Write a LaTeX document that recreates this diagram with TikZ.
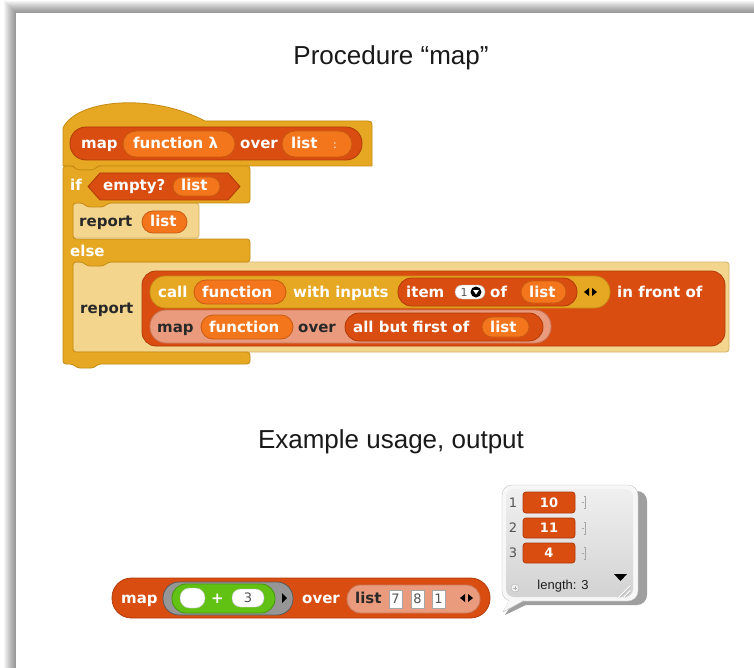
\documentclass[tikz,border=0pt]{standalone}
\usepackage{fontspec}
\setmainfont{Liberation Sans}
\newfontfamily\blk{DejaVu Sans}
\definecolor{gold}{RGB}{230,168,34}
\definecolor{golddk}{RGB}{196,138,18}
\definecolor{zgold}{RGB}{243,213,142}
\definecolor{zgolddk}{RGB}{214,178,102}
\definecolor{lred}{RGB}{217,77,17}
\definecolor{lreddk}{RGB}{176,58,8}
\definecolor{vorange}{RGB}{243,118,29}
\definecolor{vorangedk}{RGB}{200,90,15}
\definecolor{zlist}{RGB}{234,155,125}
\definecolor{zlistdk}{RGB}{200,120,90}
\definecolor{opgreen}{RGB}{98,194,19}
\definecolor{opgreendk}{RGB}{70,150,10}
\definecolor{ringgray}{RGB}{150,150,150}
\definecolor{txtdk}{RGB}{40,40,40}
\begin{document}
\begin{tikzpicture}[x=1pt,y=-1pt,line join=round,
  wt/.style={text=white,font=\blk\bfseries\fontsize{15}{15}\selectfont,anchor=west,inner sep=0pt,text height=10pt,text depth=0pt},
  dk/.style={wt,text=txtdk},
  num/.style={text=txtdk!80,font=\blk\fontsize{13}{13}\selectfont,inner sep=0pt,text height=9pt,text depth=0pt},
  cell/.style={text=white,font=\blk\bfseries\fontsize{13}{13}\selectfont,inner sep=0pt,text height=9pt,text depth=0pt},
  goldblk/.style={fill=gold,draw=golddk,line width=0.8},
  zgoldblk/.style={fill=zgold,draw=zgolddk,line width=0.8},
  redblk/.style={fill=lred,draw=lreddk,line width=0.8},
  slotv/.style={fill=vorange,draw=vorangedk,line width=0.8},
  zlistblk/.style={fill=zlist,draw=zlistdk,line width=0.8},
  title/.style={font=\fontsize{26}{30}\selectfont,text=black!90,inner sep=0pt}]
\useasboundingbox (0,0) rectangle (754,668);
% page and shadow
\fill[white] (0,0) rectangle (754,668);
\foreach \i in {1,...,12} \fill[black,opacity=0.04] (16-\i,13-\i) rectangle (760,680);
\fill[white] (16,13) rectangle (760,680);

% titles
\node[title] (t1) at (391,58) {Procedure “map”};
\node[title] (t2) at (391,442) {Example usage, output};

% hat block
\filldraw[goldblk] (63,166) -- (63,128) .. controls (76,100) and (150,92) .. (205,121) -- (368,121) .. controls (371,121) and (372,122) .. (372,125) -- (372,166) -- (98,166) -- (94,170) -- (77,170) -- (73,166) -- cycle;
\filldraw[redblk,rounded corners=16] (70,127) rectangle (362,160);
\node[wt] (h1) at (81,144) {map};
\filldraw[slotv,rounded corners=13] (123,131) rectangle (235,157);
\node[wt] (h2) at (133,144) {function λ};
\node[wt] (h3) at (240,144) {over};
\filldraw[slotv,rounded corners=13] (282,131) rectangle (352,157);
\node[wt] (h4) at (291,144) {list};
\node[wt,font=\blk\fontsize{11}{11}\selectfont] (h5) at (333,144) {:};

% report blocks inside the C slots
\filldraw[zgoldblk,rounded corners=3] (72,203) rectangle (199,238);
\filldraw[zgoldblk,rounded corners=3] (72,262) rectangle (729,352);

% if-else C block
\filldraw[goldblk,rounded corners=3] (63,166) -- (73,166) -- (77,170) -- (94,170) -- (98,166) -- (250,166) -- (250,203) -- (108,203) -- (104,207) -- (87,207) -- (83,203) -- (73,203) -- (73,239) -- (250,239) -- (250,262) -- (108,262) -- (104,266) -- (87,266) -- (83,262) -- (73,262) -- (73,352) -- (250,352) -- (250,364) -- (98,364) -- (94,368) -- (77,368) -- (73,364) -- (63,364) -- cycle;
\node[wt] (i1) at (70,186) {if};
\filldraw[redblk] (88,186.5) -- (100,173) -- (228,173) -- (240,186.5) -- (228,200) -- (100,200) -- cycle;
\node[wt] (i2) at (103,186) {empty?};
\filldraw[slotv,rounded corners=9.5] (173,177) rectangle (220,196);
\node[wt] (i3) at (181,186) {list};
\node[dk] (r1) at (79,221) {report};
\filldraw[slotv,rounded corners=11] (142,211) rectangle (187,233);
\node[wt] (r2) at (150,222) {list};
\node[wt] (e1) at (70,251) {else};
\node[dk] (r3) at (80,308) {report};

% in front of
\filldraw[redblk,rounded corners=14] (142,271) rectangle (725,346);
\filldraw[goldblk,rounded corners=15.5] (150,276) rectangle (610,308);
\node[wt] (c1) at (158,292) {call};
\filldraw[slotv,rounded corners=12] (194,280) rectangle (286,304);
\node[wt] (c2) at (202,292) {function};
\node[wt] (c3) at (293,292) {with inputs};
\filldraw[redblk,rounded corners=13.5] (398,278) rectangle (577,306);
\node[wt] (c4) at (406,292) {item};
\filldraw[fill=white,draw=gray!60,rounded corners=7] (455,285) rectangle (485,299);
\node[num,font=\blk\fontsize{11}{11}\selectfont,text height=8pt,anchor=center] (c5) at (464,292) {1};
\fill[black] (476,292) circle (5.5);
\fill[white] (473,290) -- (479,290) -- (476,294.5) -- cycle;
\node[wt] (c6) at (490,292) {of};
\filldraw[slotv,rounded corners=11] (521,281) rectangle (566,303);
\node[wt] (c7) at (529,292) {list};
\fill[black] (584,292) -- (589,288) -- (589,296) -- cycle;
\fill[black] (597,292) -- (592,288) -- (592,296) -- cycle;
\node[wt] (c8) at (617,292) {in front of};
\filldraw[zlistblk,rounded corners=16] (150,310) rectangle (551,343);
\node[dk] (m1) at (157,327) {map};
\filldraw[slotv,rounded corners=12] (201,315) rectangle (293,339);
\node[wt] (m2) at (209,327) {function};
\node[dk] (m3) at (298,327) {over};
\filldraw[redblk,rounded corners=14] (345,313) rectangle (543,341);
\node[wt] (m4) at (353,327) {all but first of};
\filldraw[slotv,rounded corners=10] (482,317) rectangle (529,337);
\node[wt] (m5) at (490,327) {list};

% example usage block
\filldraw[redblk,rounded corners=19.5] (112,578) rectangle (490,618);
\node[wt] (u1) at (121,598) {map};
\filldraw[fill=ringgray,draw=gray!70!black,line width=0.8,rounded corners=16] (163,582) rectangle (293,615);
\filldraw[fill=opgreen,draw=opgreendk,line width=0.8,rounded corners=14] (172,584) rectangle (275,613);
\filldraw[fill=white,draw=gray!50,rounded corners=9.5] (180,588) rectangle (205,608);
\node[wt] (u2) at (211,598) {+};
\filldraw[fill=white,draw=gray!50,rounded corners=8.5] (232,589) rectangle (264,607);
\node[num,anchor=center] (u3) at (248,598) {3};
\fill[black] (287,598) -- (282,593) -- (282,603) -- cycle;
\node[wt] (u4) at (302,598) {over};
\filldraw[zlistblk,rounded corners=13.5] (347,585) rectangle (480,613);
\node[dk] (u5) at (355,598) {list};
\filldraw[fill=white,draw=gray!70] (389,590) rectangle (402,608);
\node[num,anchor=center] (u6) at (395.5,599) {7};
\filldraw[fill=white,draw=gray!70] (411,590) rectangle (424,608);
\node[num,anchor=center] (u7) at (417.5,599) {8};
\filldraw[fill=white,draw=gray!70] (432,590) rectangle (445,608);
\node[num,anchor=center] (u8) at (438.5,599) {1};
\fill[black] (460,598) -- (465,594) -- (465,602) -- cycle;
\fill[black] (473,598) -- (468,594) -- (468,602) -- cycle;

% result bubble
\fill[gray!75,rounded corners=10] (508,491) rectangle (647,605);
\fill[gray!75] (512,604) -- (505,615) -- (528,604) -- cycle;
\filldraw[fill=gray!6,draw=gray!45,rounded corners=10] (502,485) rectangle (638,601);
\filldraw[fill=gray!6,draw=gray!45] (509,600.5) -- (503,612) -- (524,600.5);
\fill[gray!6] (509.5,599) -- (503.8,610.5) -- (523,599) -- cycle;
\shade[top color=gray!12,bottom color=gray!35,rounded corners=8] (506,489) rectangle (633,597);
\node[num,anchor=center] (b1) at (513,502.5) {1};
\node[num,anchor=center] (b2) at (513,527.5) {2};
\node[num,anchor=center] (b3) at (513,553) {3};
\filldraw[redblk,rounded corners=3] (523,492) rectangle (575,513);
\node[cell] (b4) at (549,502.5) {10};
\filldraw[redblk,rounded corners=3] (523,518) rectangle (575,538);
\node[cell] (b5) at (549,528) {11};
\filldraw[redblk,rounded corners=3] (523,543) rectangle (575,563);
\node[cell] (b6) at (549,553) {4};
\foreach \yy in {502.5,528,553} {
  \draw[gray!70] (584,\yy-6) -- (585.5,\yy-6) -- (585.5,\yy+6) -- (584,\yy+6);
  \draw[gray!70] (581.5,\yy) -- (584,\yy);
}
\node[text=gray!25!black,font=\fontsize{13}{13}\selectfont,inner sep=0pt] (b7) at (563,586) {length: 3};
\filldraw[fill=gray!10,draw=gray!60] (515,588) circle (4);
\draw[gray!60,line width=0.6] (513,588) -- (517,588) (515,586) -- (515,590);
\fill[black] (614,574) -- (627,574) -- (620.5,581) -- cycle;
\draw[white,line width=1] (619,597) -- (630,586) (624,597) -- (630,591);
\draw[gray!60,line width=0.6] (620,597.5) -- (630.5,587) (625,597.5) -- (630.5,592);
\end{tikzpicture}
\end{document}
